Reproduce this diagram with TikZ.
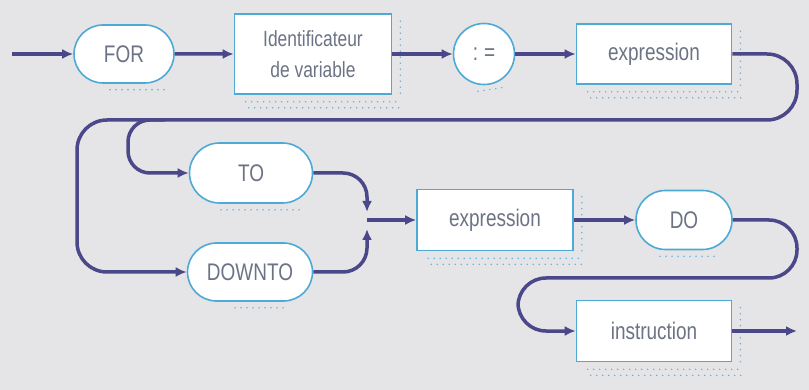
\documentclass[tikz,border=0pt]{standalone}
\usepackage{fontspec}
\setmainfont{Liberation Sans}[FakeStretch=0.79]
\usetikzlibrary{arrows.meta,shapes.misc}
\definecolor{bgc}{HTML}{E5E4E7}
\definecolor{wirec}{HTML}{4A4888}
\definecolor{edgec}{HTML}{4DA9D6}
\definecolor{inkc}{HTML}{6C7384}
\definecolor{dotc}{HTML}{5FAEDD}
\begin{document}
\begin{tikzpicture}[x=1pt,y=-1pt,
  base/.style={draw=edgec, line width=1.6pt, fill=white, text=inkc,
    font=\fontsize{24}{30}\selectfont, inner sep=0pt},
  boxnode/.style={base, rectangle},
  pill/.style={base, rounded rectangle},
  wire/.style={draw=wirec, line width=3.5pt, -{Latex[length=11pt,width=10pt]}},
  plainwire/.style={draw=wirec, line width=3.5pt},
  shadedots/.style={dotc, line width=1.6pt, line cap=round, dash pattern=on 0pt off 6pt}]
\useasboundingbox (0,0) rectangle (809,390);
\fill[bgc] (0,0) rectangle (809,390);

% nodes
\node[pill, minimum width=100pt, minimum height=58pt] (for) at (124,54) {FOR};
\node[boxnode, minimum width=157pt, minimum height=80pt, align=center,
  font=\fontsize{22}{31}\selectfont] (ident) at (313,54) {Identificateur\\de variable};
\node[base, circle, minimum size=61pt] (assign) at (484,54) {:\hspace{6pt}=};
\node[boxnode, minimum width=155pt, minimum height=60pt] (expra) at (654,54) {expression};
\node[pill, minimum width=123pt, minimum height=60pt] (to) at (251,173) {TO};
\node[pill, minimum width=125pt, minimum height=58pt] (downto) at (250,272) {DOWNTO};
\node[boxnode, minimum width=156pt, minimum height=61pt] (exprb) at (495,220) {expression};
\node[pill, minimum width=96pt, minimum height=59pt] (do) at (684,220) {DO};
\node[boxnode, minimum width=155pt, minimum height=61pt] (instr) at (654,331) {instruction};

% dotted shadows
\foreach \n in {ident,expra,exprb,instr}{
  \draw[shadedots] ([shift={(12,7)}]\n.south west) -- ([shift={(8,7)}]\n.south east);
  \draw[shadedots] ([shift={(15,13)}]\n.south west) -- ([shift={(11,13)}]\n.south east);
  \draw[shadedots] ([shift={(8,8)}]\n.north east) -- ([shift={(8,2)}]\n.south east);
}
\draw[shadedots] ([shift={(-14,6)}]for.south) -- ([shift={(40,6)}]for.south);
\draw[shadedots] ([shift={(-30,6)}]to.south) -- ([shift={(52,6)}]to.south);
\draw[shadedots] ([shift={(-15,6)}]downto.south) -- ([shift={(38,6)}]downto.south);
\draw[shadedots] ([shift={(-24,6)}]do.south) -- ([shift={(30,6)}]do.south);
\draw[shadedots] ([shift={(-6,6)}]assign.south) -- ([shift={(20,2)}]assign.south);

% connectors
\coordinate (start) at (12,54);
\coordinate (split) at (165,120);
\coordinate (join) at (367,220);
\coordinate (finish) at (797,331);

\draw[wire] (start) -- (for);
\draw[wire] (for) -- (ident);
\draw[wire] (ident) -- (assign);
\draw[wire] (assign) -- (expra);
\draw[wire, rounded corners=30pt] (expra.east) -- (797,54) -- (797,120) -- (77,120) -- (77,272) -- (downto.west);
\draw[wire, rounded corners=22pt] (split) -- (128,120) -- (128,173) -- (to.west);
\draw[wire, rounded corners=24pt] (to.east) -- (367,173) -- (367,212);
\draw[wire, rounded corners=24pt] (downto.east) -- (367,272) -- (367,229);
\draw[wire] (join) -- (exprb);
\draw[wire] (exprb) -- (do);
\draw[wire, rounded corners=28pt] (do.east) -- (797,220) -- (797,278) -- (518,278) -- (518,331) -- (instr.west);
\draw[wire] (instr) -- (finish);
\end{tikzpicture}
\end{document}
